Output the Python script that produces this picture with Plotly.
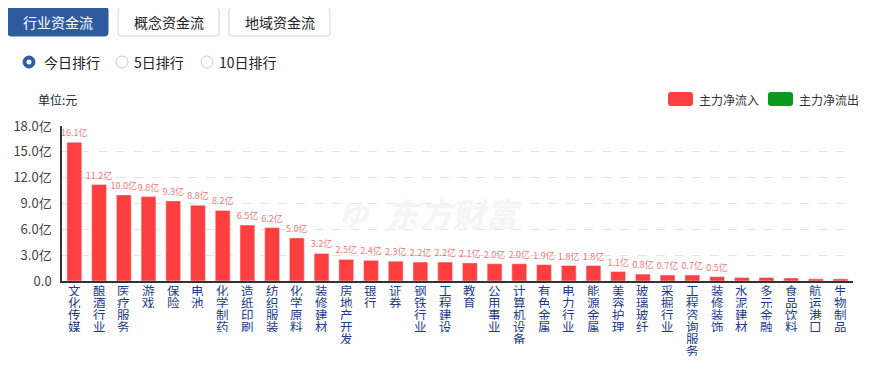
import plotly.graph_objects as go

categories = ["文化传媒", "酿酒行业", "医疗服务", "游戏", "保险", "电池", "化学制药", "造纸印刷",
              "纺织服装", "化学原料", "装修建材", "房地产开发", "银行", "证券", "钢铁行业", "工程建设",
              "教育", "公用事业", "计算机设备", "有色金属", "电力行业", "能源金属", "美容护理", "玻璃玻纤",
              "采掘行业", "工程咨询服务", "装修装饰", "水泥建材", "多元金融", "食品饮料", "航运港口", "生物制品"]
values = [16.1, 11.2, 10.0, 9.8, 9.3, 8.8, 8.2, 6.5, 6.2, 5.0, 3.2, 2.5, 2.4, 2.3, 2.2, 2.2,
          2.1, 2.0, 2.0, 1.9, 1.8, 1.8, 1.1, 0.8, 0.7, 0.7, 0.5, 0.4, 0.4, 0.35, 0.25, 0.25]
value_labels = ["16.1亿", "11.2亿", "10.0亿", "9.8亿", "9.3亿", "8.8亿", "8.2亿", "6.5亿", "6.2亿", "5.0亿",
                "3.2亿", "2.5亿", "2.4亿", "2.3亿", "2.2亿", "2.2亿", "2.1亿", "2.0亿", "2.0亿", "1.9亿",
                "1.8亿", "1.8亿", "1.1亿", "0.8亿", "0.7亿", "0.7亿", "0.5亿", "", "", "", "", ""]
ytick_vals = [0, 3, 6, 9, 12, 15, 18]
ytick_text = ["0.0", "3.0亿", "6.0亿", "9.0亿", "12.0亿", "15.0亿", "18.0亿"]
tabs = ["行业资金流", "概念资金流", "地域资金流"]
radios = ["今日排行", "5日排行", "10日排行"]
legend_items = ["主力净流入", "主力净流出"]

# the page body adds an 8px margin; lay out in window pixels and shift
OX, OY = 8, 8
WIN_W, WIN_H = 877, 366
W, H = WIN_W - OX, WIN_H - OY
PL, PR, PT, PB = 62, 853, 126, 281          # plot area in window pixels
L, R, T, B = PL - OX, WIN_W - PR, PT - OY, WIN_H - PB
PW, PH = PR - PL, PB - PT
FONT = "Noto Sans CJK SC, Microsoft YaHei, sans-serif"
RED = "#ff3f3f"
GREEN = "#0b9a1c"
BLUE = "#2e5a9e"


def px(X):
    return (X - PL) / PW


def py(Y):
    return (PB - Y) / PH


def rrect(x0, y0, x1, y1, r=3):
    a0, a1 = px(x0), px(x1)
    b0, b1 = py(y0), py(y1)
    rx, ry = r / PW, r / PH
    return (f"M {a0+rx},{b0} L {a1-rx},{b0} Q {a1},{b0} {a1},{b0-ry} "
            f"L {a1},{b1+ry} Q {a1},{b1} {a1-rx},{b1} L {a0+rx},{b1} "
            f"Q {a0},{b1} {a0},{b1+ry} L {a0},{b0-ry} Q {a0},{b0} {a0+rx},{b0} Z")


def label(X, Y, text, size, color, xanchor="center", **kw):
    return dict(xref="paper", yref="paper", x=px(X), y=py(Y), xanchor=xanchor, yanchor="middle",
                text=text, showarrow=False, font=dict(size=size, color=color, family=FONT), **kw)


fig = go.Figure()
fig.add_trace(go.Bar(
    x=categories, y=values, marker_color=RED, text=value_labels,
    textposition="outside", constraintext="none",
    textfont=dict(size=9, color="#ef7777", family=FONT),
    cliponaxis=False, width=0.6, hoverinfo="skip"))

shapes = []
annotations = []

# tabs
tab_x = [(8, 108), (118, 219), (229, 330)]
for i, (name, (x0, x1)) in enumerate(zip(tabs, tab_x)):
    sel = i == 0
    shapes.append(dict(type="path", xref="paper", yref="paper", path=rrect(x0, 7, x1, 36),
                       fillcolor=BLUE if sel else "white", layer="below",
                       line=dict(color=BLUE if sel else "#cfd6e0", width=1)))
    annotations.append(label((x0 + x1) / 2, 22, name, 14, "white" if sel else "#222"))

# radios
radio_cx = [29, 122, 207]
radio_tx = [42, 132, 217]
for i, (name, cx, tx) in enumerate(zip(radios, radio_cx, radio_tx)):
    cy = 62
    if i == 0:
        shapes.append(dict(type="circle", xref="paper", yref="paper",
                           x0=px(cx - 6), x1=px(cx + 6), y0=py(cy + 6), y1=py(cy - 6),
                           fillcolor=BLUE, line=dict(color=BLUE, width=1)))
        shapes.append(dict(type="circle", xref="paper", yref="paper",
                           x0=px(cx - 2.5), x1=px(cx + 2.5), y0=py(cy + 2.5), y1=py(cy - 2.5),
                           fillcolor="white", line=dict(width=0)))
    else:
        shapes.append(dict(type="circle", xref="paper", yref="paper",
                           x0=px(cx - 6), x1=px(cx + 6), y0=py(cy + 6), y1=py(cy - 6),
                           fillcolor="white", line=dict(color="#cccccc", width=1)))
    annotations.append(label(tx, cy, name, 14, "#222", xanchor="left"))

# unit
annotations.append(label(36, 99, "单位:元", 12, "#222", xanchor="left"))

# legend
leg_x = [668, 768]
for name, lx, col in zip(legend_items, leg_x, [RED, GREEN]):
    shapes.append(dict(type="path", xref="paper", yref="paper", path=rrect(lx, 92, lx + 25, 106, 3),
                       fillcolor=col, line=dict(width=0)))
    annotations.append(label(lx + 29, 99, name, 12, "#333", xanchor="left"))

# watermark
annotations.append(label(454, 213, "<b><i>东方财富</i></b>", 33, "#f5f5f5"))
annotations.append(label(354, 213, "<b><i>ゆ</i></b>", 30, "#f5f5f5"))

# vertical category labels (one character per line, tight pitch as in the reference)
for cat in categories:
    for k, ch in enumerate(cat):
        annotations.append(dict(xref="x", yref="paper", x=cat, y=0, yanchor="top",
                                yshift=-(1 + 12 * k), text=ch, showarrow=False,
                                height=12, valign="middle",
                                font=dict(size=12.5, color="#1d3c8c", family=FONT)))

fig.update_layout(
    width=W, height=H, autosize=False,
    margin=dict(l=L, r=R, t=T, b=B, pad=0, autoexpand=False),
    paper_bgcolor="white", plot_bgcolor="white",
    showlegend=False,
    shapes=shapes, annotations=annotations,
    font=dict(family=FONT),
    xaxis=dict(type="category", showline=True, linecolor="#333", linewidth=1.5,
               showticklabels=False, ticks="", showgrid=False, fixedrange=True,
               automargin=False),
    yaxis=dict(range=[0, 18], tickvals=ytick_vals, ticktext=ytick_text,
               showline=True, linecolor="#333", linewidth=1.5, zeroline=False,
               showgrid=True, gridcolor="#e4e4e4", griddash="dash", gridwidth=1,
               ticks="", ticklabelstandoff=6, automargin=False,
               tickfont=dict(size=13, color="#444", family=FONT), fixedrange=True),
)

fig.write_html("out.html")
